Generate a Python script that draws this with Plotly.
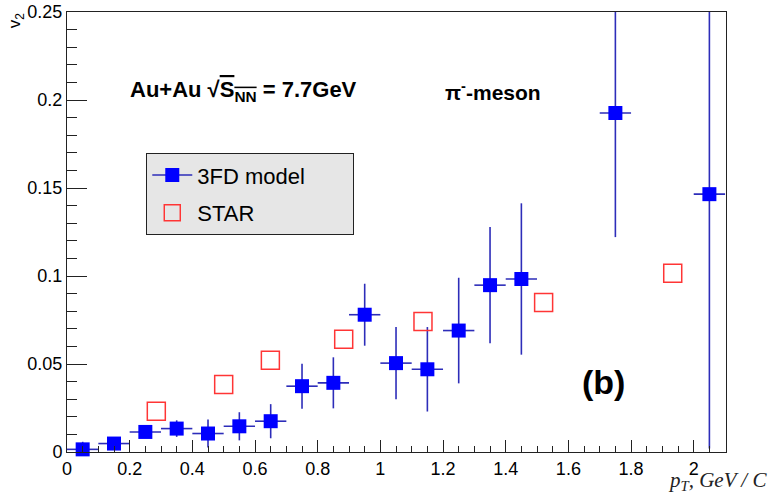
import plotly.graph_objects as go

# ---- data ----
pt_model = [0.05, 0.15, 0.25, 0.35, 0.45, 0.55, 0.65, 0.75, 0.85, 0.95,
            1.05, 1.15, 1.25, 1.35, 1.45, 1.75, 2.05]
v2_model = [0.0015, 0.0048, 0.0114, 0.0133, 0.0105, 0.0146, 0.0175, 0.0374, 0.0393, 0.0780,
            0.0505, 0.0470, 0.0690, 0.0948, 0.0983, 0.1926, 0.1465]
v2_model_err = [0.0043, 0.003, 0.003, 0.0047, 0.008, 0.008, 0.0097, 0.0128, 0.0145, 0.0176,
                0.0205, 0.024, 0.030, 0.033, 0.043, 0.0705, 0.1445]
pt_bin_half = 0.05

pt_star = [0.285, 0.50, 0.649, 0.883, 1.136, 1.521, 1.933]
v2_star = [0.0231, 0.0383, 0.0522, 0.0641, 0.0742, 0.0850, 0.1015]

x_ticks = [0, 0.2, 0.4, 0.6, 0.8, 1, 1.2, 1.4, 1.6, 1.8, 2]
y_ticks = [0, 0.05, 0.1, 0.15, 0.2, 0.25]

FONT = "Liberation Sans, Arial, Helvetica, sans-serif"
BLUE = "#0000ff"
ERR = "rgb(45,45,185)"
RED = "#ff3535"

fig = go.Figure()

fig.add_trace(go.Scatter(
    x=pt_model, y=v2_model, mode="markers",
    marker=dict(size=14, symbol="square", color="rgba(0,0,0,0)"),
    error_y=dict(type="data", array=v2_model_err, visible=True, color=ERR, thickness=1.6, width=0),
    error_x=dict(type="constant", value=pt_bin_half, visible=True, color=ERR, thickness=1.6, width=0),
    showlegend=False, hoverinfo="skip"))

fig.add_trace(go.Scatter(
    x=pt_model, y=v2_model, mode="markers", name="3FD model",
    marker=dict(size=14, symbol="square", color=BLUE, line=dict(width=0)),
    cliponaxis=False, showlegend=False))

fig.add_trace(go.Scatter(
    x=pt_star, y=v2_star, mode="markers", name="STAR",
    marker=dict(size=18, symbol="square-open", color=RED, line=dict(width=1.5, color=RED)),
    cliponaxis=False, showlegend=False))

PAD = "\u00a0" * 7
fig.add_trace(go.Scatter(
    x=[None], y=[None], mode="lines+markers", name="3FD model" + PAD, legendgroup="a",
    line=dict(color=ERR, width=1.6),
    marker=dict(size=14, symbol="square", color=BLUE)))
fig.add_trace(go.Scatter(
    x=[None], y=[None], mode="markers", name="STAR", legendgroup="b",
    marker=dict(size=16, symbol="square-open", color=RED, line=dict(width=1.5, color=RED))))

annotations = [
    dict(text="<b>Au+Au √<span style='text-decoration:overline'>S<sub>NN</sub></span> = 7.7GeV</b>",
         x=0.093, y=0.820, xref="paper", yref="paper", xanchor="left", yanchor="middle",
         showarrow=False, font=dict(family=FONT, size=22, color="black")),
    dict(text="<b>π<sup>-</sup>-meson</b>",
         x=0.571, y=0.820, xref="paper", yref="paper", xanchor="left", yanchor="middle",
         showarrow=False, font=dict(family=FONT, size=21, color="black")),
    dict(text="<b>(b)</b>",
         x=0.778, y=0.158, xref="paper", yref="paper", xanchor="left", yanchor="middle",
         showarrow=False, font=dict(family=FONT, size=34, color="black")),
    dict(text="<i>p<sub>T</sub>, GeV / C</i>",
         x=1.0657, y=-0.067, xref="paper", yref="paper", xanchor="right", yanchor="middle",
         showarrow=False, font=dict(family="Liberation Serif, Times New Roman, serif", size=21, color="#222")),
    dict(text="v<sub>2</sub>", textangle=-90,
         x=-0.077, y=0.982, xref="paper", yref="paper", xanchor="center", yanchor="middle",
         showarrow=False, font=dict(family=FONT, size=17, color="black")),
]

fig.update_layout(
    width=771, height=499,
    margin=dict(l=67, r=45, t=12, b=47, pad=0, autoexpand=False),
    paper_bgcolor="white", plot_bgcolor="white",
    font=dict(family=FONT, size=16, color="black"),
    annotations=annotations,
    legend=dict(x=0.1203, y=0.679, xanchor="left", yanchor="top",
                bgcolor="#e6e6e6", bordercolor="#222", borderwidth=1,
                font=dict(family=FONT, size=22, color="black"),
                itemwidth=40, tracegroupgap=6),
    xaxis=dict(range=[0, 2.103], tickvals=x_ticks, ticktext=[f"{v:g}" for v in x_ticks],
               ticks="inside", ticklen=12, tickwidth=1, tickcolor="#222", automargin=False,
               ticklabeloverflow="allow",
               minor=dict(dtick=0.05, tick0=0, ticks="inside", ticklen=6, tickcolor="#222", showgrid=False),
               showline=True, linecolor="#222", linewidth=1, mirror=True,
               showgrid=False, zeroline=False, tickfont=dict(size=18)),
    yaxis=dict(range=[0, 0.25], tickvals=y_ticks, ticktext=[f"{v:g}" for v in y_ticks],
               ticks="inside", ticklen=20, tickwidth=1, tickcolor="#222", automargin=False,
               ticklabeloverflow="allow",
               minor=dict(dtick=0.01, tick0=0, ticks="inside", ticklen=10, tickcolor="#222", showgrid=False),
               showline=True, linecolor="#222", linewidth=1, mirror=True,
               showgrid=False, zeroline=False, tickfont=dict(size=18)),
)

fig.write_html("out.html", config={"displayModeBar": False},
               post_script="document.body.style.margin='0';document.body.style.overflow='hidden';")
